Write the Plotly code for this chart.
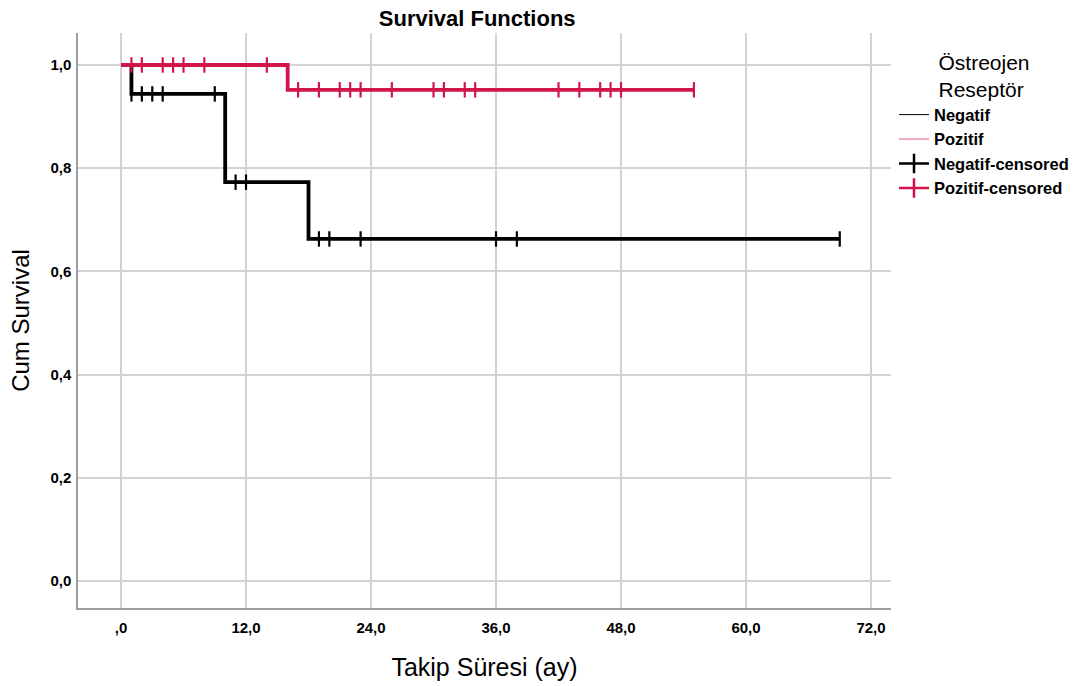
import plotly.graph_objects as go

# ---- data ----
neg_t = [0, 1, 10, 18, 69]
neg_s = [1.0, 0.944, 0.773, 0.663, 0.663]
poz_t = [0, 16, 55]
poz_s = [1.0, 0.952, 0.952]

neg_cens_t = [1, 2, 3, 4, 9, 11, 12, 19, 20, 23, 36, 38, 69]
neg_cens_s = [0.944, 0.944, 0.944, 0.944, 0.944, 0.773, 0.773,
              0.663, 0.663, 0.663, 0.663, 0.663, 0.663]
poz_cens_t = [1, 2, 4, 5, 6, 8, 14, 17, 19, 21, 22, 23, 26, 30, 31, 33,
              34, 42, 44, 46, 47, 48, 55]
poz_cens_s = [1.0, 1.0, 1.0, 1.0, 1.0, 1.0, 1.0,
              0.952, 0.952, 0.952, 0.952, 0.952, 0.952, 0.952, 0.952, 0.952,
              0.952, 0.952, 0.952, 0.952, 0.952, 0.952, 0.952]

x_tickvals = [0, 12, 24, 36, 48, 60, 72]
x_ticktext = [",0", "12,0", "24,0", "36,0", "48,0", "60,0", "72,0"]
y_tickvals = [0, 0.2, 0.4, 0.6, 0.8, 1.0]
y_ticktext = ["0,0", "0,2", "0,4", "0,6", "0,8", "1,0"]

BLACK = "#000000"
RED = "#D1154B"
FONT = "Liberation Sans, Arial, sans-serif"

fig = go.Figure()

# survival step curves
fig.add_trace(go.Scatter(x=neg_t, y=neg_s, mode="lines", line_shape="hv",
                         line=dict(color=BLACK, width=3.8), showlegend=False,
                         hoverinfo="skip"))
fig.add_trace(go.Scatter(x=poz_t, y=poz_s, mode="lines", line_shape="hv",
                         line=dict(color=RED, width=3.8), showlegend=False,
                         hoverinfo="skip"))
# censored marks
fig.add_trace(go.Scatter(x=neg_cens_t, y=neg_cens_s, mode="markers",
                         marker=dict(symbol="line-ns", size=11,
                                     line=dict(color=BLACK, width=2.2)),
                         showlegend=False, hoverinfo="skip"))
fig.add_trace(go.Scatter(x=poz_cens_t, y=poz_cens_s, mode="markers",
                         marker=dict(symbol="line-ns", size=11,
                                     line=dict(color=RED, width=2.2)),
                         showlegend=False, hoverinfo="skip"))

# legend entries
fig.add_trace(go.Scatter(x=[None], y=[None], mode="lines", name="Negatif",
                         line=dict(color=BLACK, width=1)))
fig.add_trace(go.Scatter(x=[None], y=[None], mode="lines", name="Pozitif",
                         line=dict(color="#E05A7C", width=1)))
fig.add_trace(go.Scatter(x=[None], y=[None], mode="lines+markers",
                         name="Negatif-censored",
                         line=dict(color=BLACK, width=2.5),
                         marker=dict(symbol="line-ns", size=14,
                                     line=dict(color=BLACK, width=2.5))))
fig.add_trace(go.Scatter(x=[None], y=[None], mode="lines+markers",
                         name="Pozitif-censored",
                         line=dict(color=RED, width=2.5),
                         marker=dict(symbol="line-ns", size=14,
                                     line=dict(color=RED, width=2.5))))

fig.update_layout(
    width=1092, height=686,
    margin=dict(l=78, r=201, t=33, b=78, autoexpand=False),
    paper_bgcolor="white", plot_bgcolor="white",
    font=dict(family=FONT, color="black"),
    title=dict(text="<b>Survival Functions</b>", x=0.491, xref="paper",
               y=0.973, yref="container", yanchor="middle",
               xanchor="center", font=dict(size=22, family=FONT)),
    legend=dict(
        x=1.0037, xref="paper", xanchor="left",
        y=0.983, yanchor="top",
        title=dict(text="Östreojen<br>Reseptör", side="top center",
                   font=dict(size=21, family=FONT, weight="normal")),
        font=dict(size=16.5, family=FONT, weight="bold"),
        bgcolor="rgba(0,0,0,0)", borderwidth=0,
        tracegroupgap=0,
    ),
    xaxis=dict(
        range=[-4.13, 73.92], tickvals=x_tickvals, ticktext=x_ticktext,
        showgrid=True, gridcolor="#D3D3D3", gridwidth=1.5,
        showline=True, linecolor="#9E9E9E", linewidth=1.5,
        ticks="", zeroline=False, ticklabelstandoff=5,
        tickfont=dict(size=15, family=FONT, weight="bold"),
        title=dict(text="Takip Süresi (ay)", font=dict(size=25, family=FONT),
                   standoff=24),
        fixedrange=True,
    ),
    yaxis=dict(
        range=[-0.052, 1.062], tickvals=y_tickvals, ticktext=y_ticktext,
        showgrid=True, gridcolor="#D3D3D3", gridwidth=1.5,
        showline=True, linecolor="#9E9E9E", linewidth=1.5,
        ticks="", zeroline=False, ticklabelstandoff=2,
        tickfont=dict(size=15, family=FONT, weight="bold"),
        title=dict(text="Cum Survival", font=dict(size=24, family=FONT),
                   standoff=14),
        fixedrange=True,
    ),
)

fig.write_html("out.html")
